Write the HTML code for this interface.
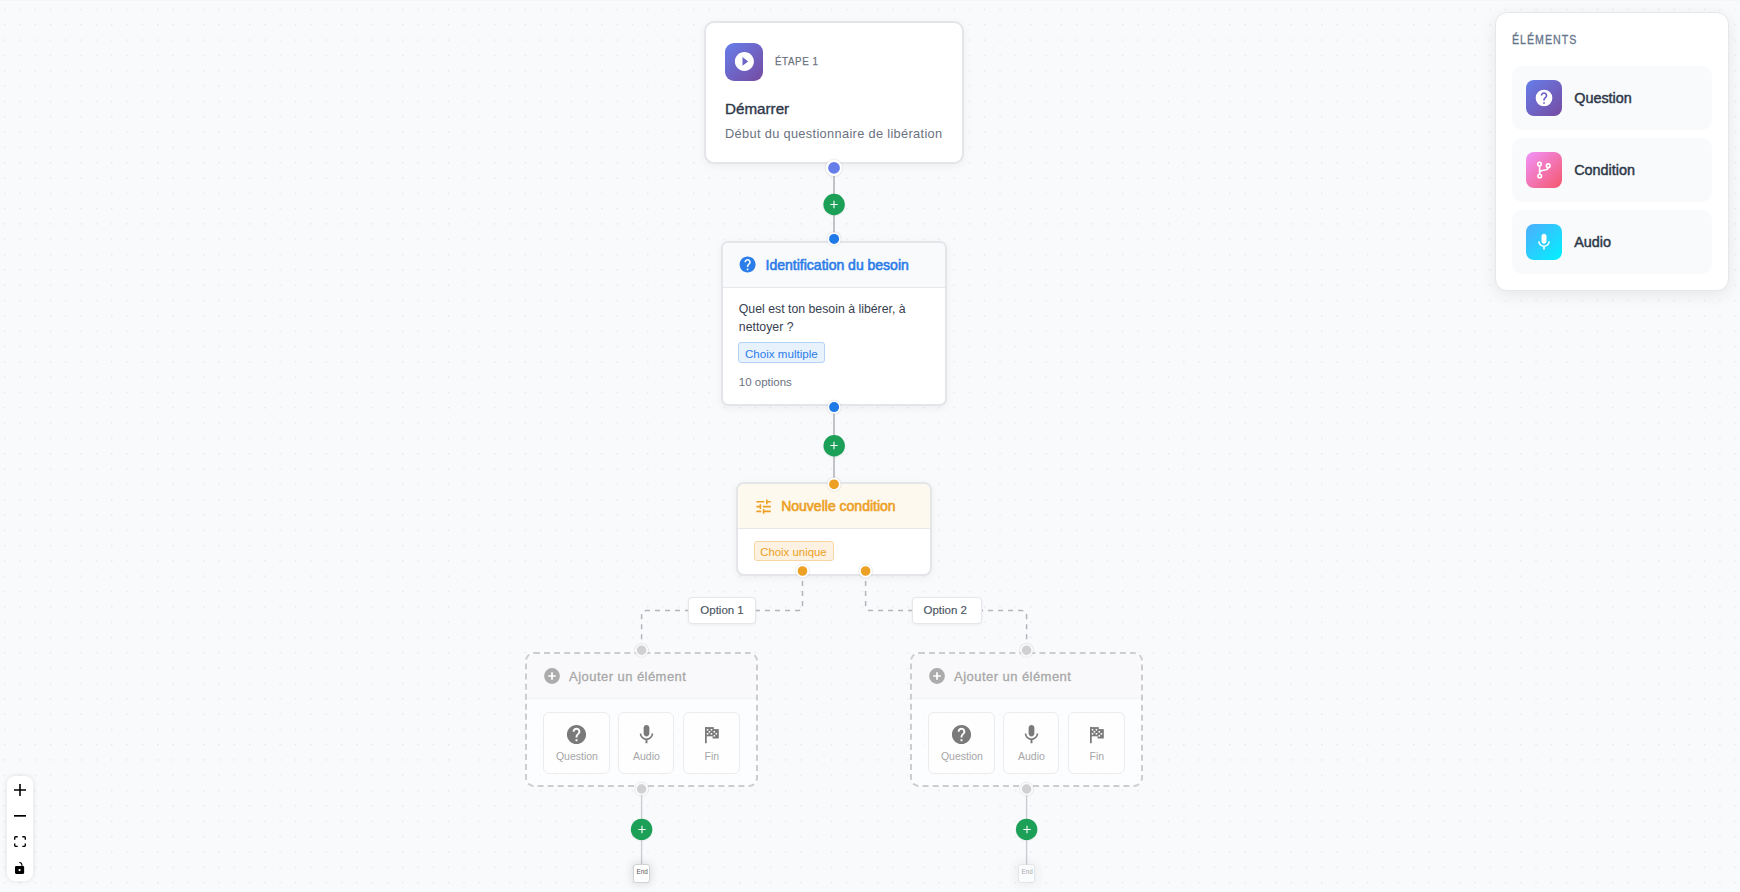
<!DOCTYPE html>
<html><head><meta charset="utf-8">
<style>
html,body{margin:0;padding:0;width:1740px;height:892px;overflow:hidden;background:#f8fafc;font-family:"Liberation Sans",sans-serif;}
.a{position:absolute;}
.t{position:absolute;white-space:nowrap;line-height:1;}
.h{position:absolute;border-radius:50%;box-sizing:border-box;border:1.5px solid #fff;}
.plus{position:absolute;width:21.6px;height:21.6px;border-radius:50%;background:#1ca058;box-shadow:0 1px 4px rgba(0,0,0,.16);}
.plus:before{content:"";position:absolute;left:7.1px;top:10.2px;width:7.4px;height:1.2px;background:#fff;}
.plus:after{content:"";position:absolute;left:10.2px;top:7.1px;width:1.2px;height:7.4px;background:#fff;}
</style></head><body>
<svg class="a" style="left:0;top:0" width="1740" height="892">
<defs><pattern id="dots" x="3.85" y="8.85" width="15.316" height="15.316" patternUnits="userSpaceOnUse"><circle cx="0.75" cy="0.75" r="0.75" fill="#dfe1e5"/></pattern></defs>
<rect width="1740" height="892" fill="url(#dots)"/>
<rect width="1740" height="1" fill="#f5f6f8"/>
<g stroke="#b4b4ba" stroke-width="1.6" fill="none">
<path d="M834 168V239"/>
<path d="M834 407V484"/>
</g>
<g stroke="#cdcdd2" stroke-width="1.4" fill="none"><path d="M641.6 789V865"/><path d="M1026.6 789V865"/></g>
<g stroke="#b4b4ba" stroke-width="1.5" fill="none" stroke-dasharray="5 5">
<path d="M802.5 571V605.6Q802.5 610.6 797.5 610.6H646.6Q641.6 610.6 641.6 615.6V650"/>
<path d="M865.6 571V605.6Q865.6 610.6 870.6 610.6H1021.6Q1026.6 610.6 1026.6 615.6V650"/>
</g>
</svg>
<div class="a" style="left:704.1px;top:21.4px;width:260px;height:142.3px;box-sizing:border-box;background:#fff;border:2px solid #e3e5e9;border-radius:10px;box-shadow:0 2px 8px rgba(0,0,0,.05)"></div>
<div class="a" style="left:725px;top:43px;width:38px;height:38px;border-radius:9px;background:linear-gradient(135deg,#667eea,#764ba2)"></div>
<svg class="a" style="left:732.8px;top:50.3px" width="22.8" height="22.8" viewBox="0 0 24 24"><path d="M12 2C6.48 2 2 6.48 2 12s4.48 10 10 10 10-4.48 10-10S17.52 2 12 2zm-2 14.5v-9l6 4.5-6 4.5z" fill="#fff"/></svg>
<div class="t" style="left:775px;top:56.4px;font-size:11.5px;color:#6b7280;letter-spacing:0.7px;-webkit-text-stroke:0.25px #6b7280;transform:scaleX(0.85);transform-origin:0 0;">ÉTAPE 1</div>
<div class="t" style="left:725px;top:101.2px;font-size:15.2px;color:#2d3748;-webkit-text-stroke:0.35px #2d3748;">Démarrer</div>
<div class="t" style="left:725px;top:127.5px;font-size:12.8px;color:#6b7280;letter-spacing:0.33px;">Début du questionnaire de libération</div>
<svg class="a" style="left:822px;top:156px;overflow:visible" width="25" height="25"><circle cx="12.00" cy="11.90" r="9.55" fill="rgba(0,0,0,.03)"/><circle cx="12.00" cy="11.90" r="8.85" fill="rgba(0,0,0,.06)"/><circle cx="12.00" cy="11.90" r="7.12" fill="#667eea" stroke="#fff" stroke-width="2.45"/></svg>
<svg class="a" style="left:822px;top:192px;overflow:visible" width="24" height="24"><circle cx="12.10" cy="13.15" r="11.3" fill="rgba(0,0,0,.05)"/><circle cx="12.10" cy="12.45" r="10.7" fill="#1ca058"/><path d="M8.30 12.50H15.70M12.00 8.80V16.20" stroke="#fff" stroke-width="1.1"/></svg>
<div class="a" style="left:721.2px;top:240.9px;width:226px;height:165.4px;box-sizing:border-box;background:#fff;border:2px solid #e3e5e9;border-radius:7px;overflow:hidden;box-shadow:0 2px 8px rgba(0,0,0,.05)">
<div class="a" style="left:0;top:0;right:0;height:44.3px;background:#f9fafb;border-bottom:1px solid #e5e7eb"></div></div>
<svg class="a" style="left:738.2px;top:254.9px" width="19.2" height="19.2" viewBox="0 0 24 24"><path d="M12 2C6.48 2 2 6.48 2 12s4.48 10 10 10 10-4.48 10-10S17.52 2 12 2zm1 17h-2v-2h2v2zm2.07-7.75l-.9.92C13.45 12.9 13 13.5 13 15h-2v-.5c0-1.1.45-2.1 1.170-2.83l1.24-1.26c.37-.36.59-.86.59-1.41 0-1.1-.9-2-2-2s-2 .9-2 2H8c0-2.21 1.79-4 4-4s4 1.79 4 4c0 .88-.36 1.68-.93 2.25z" fill="#2b7de9"/></svg>
<div class="t" style="left:765.6px;top:258.3px;font-size:14px;color:#2b7de9;-webkit-text-stroke:0.6px #2b7de9;">Identification du besoin</div>
<div class="t" style="left:738.8px;top:302.6px;font-size:12.3px;color:#374151;">Quel est ton besoin à libérer, à</div>
<div class="t" style="left:738.8px;top:320.8px;font-size:12.3px;color:#374151;">nettoyer ?</div>
<div class="a" style="left:738.3px;top:342.2px;width:86.3px;height:20.7px;box-sizing:border-box;background:#e8f2fd;border:1px solid #b3d3f6;border-radius:3px"></div>
<div class="t" style="left:745px;top:348.4px;font-size:11.6px;color:#2b7de9;">Choix multiple</div>
<div class="t" style="left:738.8px;top:376.8px;font-size:11.5px;color:#6b7280;">10 options</div>
<svg class="a" style="left:824px;top:229px;overflow:visible" width="21" height="21"><circle cx="10.10" cy="9.90" r="7.90" fill="rgba(0,0,0,.03)"/><circle cx="10.10" cy="9.90" r="7.20" fill="rgba(0,0,0,.06)"/><circle cx="10.10" cy="9.90" r="5.85" fill="#1f7ae8" stroke="#fff" stroke-width="1.70"/></svg>
<svg class="a" style="left:824px;top:397px;overflow:visible" width="21" height="21"><circle cx="10.10" cy="10.10" r="7.90" fill="rgba(0,0,0,.03)"/><circle cx="10.10" cy="10.10" r="7.20" fill="rgba(0,0,0,.06)"/><circle cx="10.10" cy="10.10" r="5.85" fill="#1f7ae8" stroke="#fff" stroke-width="1.70"/></svg>
<svg class="a" style="left:822px;top:433px;overflow:visible" width="24" height="24"><circle cx="12.20" cy="13.50" r="11.3" fill="rgba(0,0,0,.05)"/><circle cx="12.20" cy="12.80" r="10.7" fill="#1ca058"/><path d="M8.30 12.50H15.70M12.00 8.80V16.20" stroke="#fff" stroke-width="1.1"/></svg>
<div class="a" style="left:736.2px;top:482.1px;width:195.8px;height:93.8px;box-sizing:border-box;background:#fff;border:2px solid #e3e5e9;border-radius:8px;overflow:hidden;box-shadow:0 2px 8px rgba(0,0,0,.05)">
<div class="a" style="left:0;top:0;right:0;height:44.1px;background:#fef9ee;border-bottom:1px solid #e5e7eb"></div></div>
<svg class="a" style="left:753.6px;top:496.9px" width="19.2" height="19.2" viewBox="0 0 24 24"><path d="M3 17v2h6v-2H3zM3 5v2h10V5H3zm10 16v-2h8v-2h-8v-2h-2v6h2zM7 9v2H3v2h4v2h2V9H7zm14 4v-2H11v2h10zm-6-4h2V7h4V5h-4V3h-2v6z" fill="#eca024"/></svg>
<div class="t" style="left:781.2px;top:499.3px;font-size:14px;color:#eca024;-webkit-text-stroke:0.6px #eca024;">Nouvelle condition</div>
<div class="a" style="left:753.7px;top:540.6px;width:80.1px;height:20.9px;box-sizing:border-box;background:#fdf2e2;border:1px solid #f8d6a2;border-radius:3px"></div>
<div class="t" style="left:760.2px;top:547.1px;font-size:11.4px;color:#eca024;">Choix unique</div>
<svg class="a" style="left:824px;top:474px;overflow:visible" width="21" height="21"><circle cx="10.00" cy="10.30" r="7.90" fill="rgba(0,0,0,.03)"/><circle cx="10.00" cy="10.30" r="7.20" fill="rgba(0,0,0,.06)"/><circle cx="10.00" cy="10.30" r="5.80" fill="#eca024" stroke="#fff" stroke-width="1.80"/></svg>
<svg class="a" style="left:792px;top:561px;overflow:visible" width="21" height="21"><circle cx="10.50" cy="10.00" r="7.90" fill="rgba(0,0,0,.03)"/><circle cx="10.50" cy="10.00" r="7.20" fill="rgba(0,0,0,.06)"/><circle cx="10.50" cy="10.00" r="5.75" fill="#eca024" stroke="#fff" stroke-width="1.90"/></svg>
<svg class="a" style="left:855px;top:561px;overflow:visible" width="21" height="21"><circle cx="10.60" cy="10.00" r="7.90" fill="rgba(0,0,0,.03)"/><circle cx="10.60" cy="10.00" r="7.20" fill="rgba(0,0,0,.06)"/><circle cx="10.60" cy="10.00" r="5.75" fill="#eca024" stroke="#fff" stroke-width="1.90"/></svg>
<div class="a" style="left:688px;top:597px;width:68px;height:27px;box-sizing:border-box;background:#fff;border:1px solid #e5e7eb;border-radius:4px;box-shadow:0 1px 3px rgba(0,0,0,.06)"></div>
<div class="t" style="left:700.3px;top:605.3px;font-size:11.5px;color:#4b5563;-webkit-text-stroke:0.15px #4b5563;">Option 1</div>
<div class="a" style="left:911.6px;top:597px;width:70px;height:27px;box-sizing:border-box;background:#fff;border:1px solid #e5e7eb;border-radius:4px;box-shadow:0 1px 3px rgba(0,0,0,.06)"></div>
<div class="t" style="left:923.5px;top:605.3px;font-size:11.5px;color:#4b5563;-webkit-text-stroke:0.15px #4b5563;">Option 2</div>
<div class="a" style="left:525.1px;top:652.3px;width:233.1px;height:134.6px;box-sizing:border-box;border:2px dashed #cdcdcd;border-radius:9px;background:rgba(255,255,255,.6);overflow:hidden">
<div class="a" style="left:0;top:0;right:0;height:44px;background:rgba(246,247,249,.6);border-bottom:1px solid rgba(225,227,231,.25)"></div></div>
<svg class="a" style="left:543.7px;top:668.1px" width="16" height="16"><circle cx="8" cy="8" r="7.9" fill="#ababab"/><path d="M4.2 8H11.8M8 4.2V11.8" stroke="#fff" stroke-width="1.7"/></svg>
<div class="t" style="left:569.1px;top:670px;font-size:13px;color:#a8a8a8;letter-spacing:0.45px;-webkit-text-stroke:0.3px #a8a8a8;">Ajouter un élément</div>
<div class="a" style="left:543.3px;top:711.5px;width:66.4px;height:62.1px;box-sizing:border-box;border:1px solid #ececef;border-radius:6px;background:rgba(255,255,255,.6)"></div>
<div class="a" style="left:618px;top:711.5px;width:56.3px;height:62.1px;box-sizing:border-box;border:1px solid #ececef;border-radius:6px;background:rgba(255,255,255,.6)"></div>
<div class="a" style="left:683.1px;top:711.5px;width:56.6px;height:62.1px;box-sizing:border-box;border:1px solid #ececef;border-radius:6px;background:rgba(255,255,255,.6)"></div>
<svg class="a" style="left:565px;top:723.2px" width="23" height="23" viewBox="0 0 24 24"><path d="M12 2C6.48 2 2 6.48 2 12s4.48 10 10 10 10-4.48 10-10S17.52 2 12 2zm1 17h-2v-2h2v2zm2.07-7.75l-.9.92C13.45 12.9 13 13.5 13 15h-2v-.5c0-1.1.45-2.1 1.170-2.83l1.24-1.26c.37-.36.59-.86.59-1.41 0-1.1-.9-2-2-2s-2 .9-2 2H8c0-2.21 1.79-4 4-4s4 1.79 4 4c0 .88-.36 1.68-.93 2.25z" fill="#7a7a7a"/></svg>
<svg class="a" style="left:635px;top:723.1px" width="23" height="23" viewBox="0 0 24 24"><path d="M12 14c1.66 0 2.99-1.34 2.99-3L15 5c0-1.66-1.34-3-3-3S9 3.34 9 5v6c0 1.66 1.34 3 3 3zm5.3-3c0 3-2.54 5.1-5.3 5.1S6.7 14 6.7 11H5c0 3.41 2.72 6.23 6 6.72V21h2v-3.28c3.28-.48 6-3.3 6-6.72h-1.7z" fill="#7a7a7a"/></svg>
<svg class="a" style="left:700px;top:720px" width="24" height="26"><g fill="#7a7a7a"><rect x="5" y="7.1" width="1.75" height="16.1"/><rect x="5" y="7.1" width="8.8" height="9.2"/><rect x="12.6" y="9.1" width="6.2" height="9.4"/></g><rect x="6.74" y="8.94" width="1.6" height="1.6" fill="#fff"/><rect x="10.66" y="8.94" width="1.6" height="1.6" fill="#fff"/><rect x="8.62" y="10.98" width="1.6" height="1.6" fill="#fff"/><rect x="13.49" y="10.98" width="1.6" height="1.6" fill="#fff"/><rect x="6.74" y="13.02" width="1.6" height="1.6" fill="#fff"/><rect x="10.66" y="13.02" width="1.6" height="1.6" fill="#fff"/><rect x="15.53" y="13.02" width="1.6" height="1.6" fill="#fff"/><rect x="13.49" y="15.06" width="1.6" height="1.6" fill="#fff"/></svg>
<div class="t" style="left:555.9px;top:750.9px;font-size:10.5px;color:#a6a6a6;">Question</div>
<div class="t" style="left:633px;top:750.9px;font-size:10.5px;color:#a6a6a6;">Audio</div>
<div class="t" style="left:704.6px;top:750.9px;font-size:10.5px;color:#a6a6a6;">Fin</div>
<svg class="a" style="left:632px;top:640px;overflow:visible" width="21" height="21"><circle cx="9.60" cy="10.30" r="7.80" fill="rgba(0,0,0,.03)"/><circle cx="9.60" cy="10.30" r="7.10" fill="rgba(0,0,0,.06)"/><circle cx="9.60" cy="10.30" r="5.65" fill="#d0d0d2" stroke="rgba(255,255,255,.85)" stroke-width="1.90"/></svg>
<svg class="a" style="left:632px;top:779px;overflow:visible" width="21" height="21"><circle cx="9.60" cy="10.00" r="7.80" fill="rgba(0,0,0,.03)"/><circle cx="9.60" cy="10.00" r="7.10" fill="rgba(0,0,0,.06)"/><circle cx="9.60" cy="10.00" r="5.65" fill="#d0d0d2" stroke="rgba(255,255,255,.85)" stroke-width="1.90"/></svg>
<svg class="a" style="left:629px;top:817px;overflow:visible" width="24" height="24"><circle cx="12.60" cy="13.10" r="11.3" fill="rgba(0,0,0,.05)"/><circle cx="12.60" cy="12.40" r="10.7" fill="#1ca058"/><path d="M9.30 12.50H16.70M13.00 8.80V16.20" stroke="#fff" stroke-width="1.1"/></svg>
<div class="a" style="left:632.7px;top:864.3px;width:17.8px;height:18.3px;opacity:1"><div class="a" style="left:0;top:0;width:17.8px;height:18.3px;box-sizing:border-box;background:#fff;border:1px solid #d2d2d2;border-radius:3px;box-shadow:0 0 10px 1px rgba(0,0,0,.12)"></div><div class="t" style="left:3.9px;top:5.2px;font-size:6.3px;color:#555;">End</div>
</div>
<div class="a" style="left:910.1px;top:652.3px;width:233.1px;height:134.6px;box-sizing:border-box;border:2px dashed #cdcdcd;border-radius:9px;background:rgba(255,255,255,.6);overflow:hidden">
<div class="a" style="left:0;top:0;right:0;height:44px;background:rgba(246,247,249,.6);border-bottom:1px solid rgba(225,227,231,.25)"></div></div>
<svg class="a" style="left:928.7px;top:668.1px" width="16" height="16"><circle cx="8" cy="8" r="7.9" fill="#ababab"/><path d="M4.2 8H11.8M8 4.2V11.8" stroke="#fff" stroke-width="1.7"/></svg>
<div class="t" style="left:954.1px;top:670px;font-size:13px;color:#a8a8a8;letter-spacing:0.45px;-webkit-text-stroke:0.3px #a8a8a8;">Ajouter un élément</div>
<div class="a" style="left:928.3px;top:711.5px;width:66.4px;height:62.1px;box-sizing:border-box;border:1px solid #ececef;border-radius:6px;background:rgba(255,255,255,.6)"></div>
<div class="a" style="left:1003px;top:711.5px;width:56.3px;height:62.1px;box-sizing:border-box;border:1px solid #ececef;border-radius:6px;background:rgba(255,255,255,.6)"></div>
<div class="a" style="left:1068.1px;top:711.5px;width:56.6px;height:62.1px;box-sizing:border-box;border:1px solid #ececef;border-radius:6px;background:rgba(255,255,255,.6)"></div>
<svg class="a" style="left:950px;top:723.2px" width="23" height="23" viewBox="0 0 24 24"><path d="M12 2C6.48 2 2 6.48 2 12s4.48 10 10 10 10-4.48 10-10S17.52 2 12 2zm1 17h-2v-2h2v2zm2.07-7.75l-.9.92C13.45 12.9 13 13.5 13 15h-2v-.5c0-1.1.45-2.1 1.170-2.83l1.24-1.26c.37-.36.59-.86.59-1.41 0-1.1-.9-2-2-2s-2 .9-2 2H8c0-2.21 1.79-4 4-4s4 1.79 4 4c0 .88-.36 1.68-.93 2.25z" fill="#7a7a7a"/></svg>
<svg class="a" style="left:1020px;top:723.1px" width="23" height="23" viewBox="0 0 24 24"><path d="M12 14c1.66 0 2.99-1.34 2.99-3L15 5c0-1.66-1.34-3-3-3S9 3.34 9 5v6c0 1.66 1.34 3 3 3zm5.3-3c0 3-2.54 5.1-5.3 5.1S6.7 14 6.7 11H5c0 3.41 2.72 6.23 6 6.72V21h2v-3.28c3.28-.48 6-3.3 6-6.72h-1.7z" fill="#7a7a7a"/></svg>
<svg class="a" style="left:1085px;top:720px" width="24" height="26"><g fill="#7a7a7a"><rect x="5" y="7.1" width="1.75" height="16.1"/><rect x="5" y="7.1" width="8.8" height="9.2"/><rect x="12.6" y="9.1" width="6.2" height="9.4"/></g><rect x="6.74" y="8.94" width="1.6" height="1.6" fill="#fff"/><rect x="10.66" y="8.94" width="1.6" height="1.6" fill="#fff"/><rect x="8.62" y="10.98" width="1.6" height="1.6" fill="#fff"/><rect x="13.49" y="10.98" width="1.6" height="1.6" fill="#fff"/><rect x="6.74" y="13.02" width="1.6" height="1.6" fill="#fff"/><rect x="10.66" y="13.02" width="1.6" height="1.6" fill="#fff"/><rect x="15.53" y="13.02" width="1.6" height="1.6" fill="#fff"/><rect x="13.49" y="15.06" width="1.6" height="1.6" fill="#fff"/></svg>
<div class="t" style="left:940.9px;top:750.9px;font-size:10.5px;color:#a6a6a6;">Question</div>
<div class="t" style="left:1018px;top:750.9px;font-size:10.5px;color:#a6a6a6;">Audio</div>
<div class="t" style="left:1089.6px;top:750.9px;font-size:10.5px;color:#a6a6a6;">Fin</div>
<svg class="a" style="left:1016px;top:640px;overflow:visible" width="21" height="21"><circle cx="10.60" cy="10.30" r="7.80" fill="rgba(0,0,0,.03)"/><circle cx="10.60" cy="10.30" r="7.10" fill="rgba(0,0,0,.06)"/><circle cx="10.60" cy="10.30" r="5.65" fill="#d0d0d2" stroke="rgba(255,255,255,.85)" stroke-width="1.90"/></svg>
<svg class="a" style="left:1016px;top:779px;overflow:visible" width="21" height="21"><circle cx="10.60" cy="10.00" r="7.80" fill="rgba(0,0,0,.03)"/><circle cx="10.60" cy="10.00" r="7.10" fill="rgba(0,0,0,.06)"/><circle cx="10.60" cy="10.00" r="5.65" fill="#d0d0d2" stroke="rgba(255,255,255,.85)" stroke-width="1.90"/></svg>
<svg class="a" style="left:1014px;top:817px;overflow:visible" width="24" height="24"><circle cx="12.60" cy="13.10" r="11.3" fill="rgba(0,0,0,.05)"/><circle cx="12.60" cy="12.40" r="10.7" fill="#1ca058"/><path d="M9.30 12.50H16.70M13.00 8.80V16.20" stroke="#fff" stroke-width="1.1"/></svg>
<div class="a" style="left:1017.7px;top:864.3px;width:17.8px;height:18.3px;opacity:0.5"><div class="a" style="left:0;top:0;width:17.8px;height:18.3px;box-sizing:border-box;background:#fff;border:1px solid #d2d2d2;border-radius:3px;box-shadow:0 0 10px 1px rgba(0,0,0,.12)"></div><div class="t" style="left:3.9px;top:5.2px;font-size:6.3px;color:#555;">End</div>
</div>
<div class="a" style="left:1495.3px;top:12.2px;width:233.4px;height:279.2px;box-sizing:border-box;background:#fff;border:1px solid #e5e7eb;border-radius:12px;box-shadow:0 4px 16px rgba(0,0,0,.08)"></div>
<div class="t" style="left:1512.4px;top:33.6px;font-size:12.8px;color:#64748b;letter-spacing:1.2px;-webkit-text-stroke:0.3px #64748b;transform:scaleX(0.83);transform-origin:0 0;">ÉLÉMENTS</div>
<div class="a" style="left:1512.2px;top:66.4px;width:200px;height:64px;border-radius:10px;background:#f8fafc"></div>
<div class="a" style="left:1526px;top:80.0px;width:36px;height:36px;border-radius:8px;background:linear-gradient(135deg,#667eea,#764ba2)"></div>
<div class="t" style="left:1574.2px;top:90.7px;font-size:14.4px;color:#2d3748;-webkit-text-stroke:0.45px #2d3748;">Question</div>
<div class="a" style="left:1512.2px;top:138.4px;width:200px;height:64px;border-radius:10px;background:#f8fafc"></div>
<div class="a" style="left:1526px;top:152.0px;width:36px;height:36px;border-radius:8px;background:linear-gradient(135deg,#f093fb,#f5576c)"></div>
<div class="t" style="left:1574.2px;top:162.70000000000002px;font-size:14.4px;color:#2d3748;-webkit-text-stroke:0.45px #2d3748;">Condition</div>
<div class="a" style="left:1512.2px;top:210.4px;width:200px;height:64px;border-radius:10px;background:#f8fafc"></div>
<div class="a" style="left:1526px;top:224.0px;width:36px;height:36px;border-radius:8px;background:linear-gradient(135deg,#4facfe,#00f2fe)"></div>
<div class="t" style="left:1574.2px;top:234.70000000000002px;font-size:14.4px;color:#2d3748;-webkit-text-stroke:0.45px #2d3748;">Audio</div>
<svg class="a" style="left:1534px;top:88px" width="20" height="20" viewBox="0 0 24 24"><circle cx="12" cy="12" r="10" fill="#fff"/><path d="M13 19h-2v-2h2v2zm2.07-7.75l-.9.92C13.45 12.9 13 13.5 13 15h-2v-.5c0-1.1.45-2.1 1.17-2.83l1.24-1.26c.37-.36.59-.86.59-1.41 0-1.1-.9-2-2-2s-2 .9-2 2H8c0-2.21 1.79-4 4-4s4 1.79 4 4c0 .88-.36 1.68-.93 2.25z" fill="#6e5ccc"/></svg>
<svg class="a" style="left:1526px;top:152px" width="36" height="36"><g fill="none" stroke="#fff" stroke-width="1.6" stroke-linecap="round"><circle cx="13.5" cy="12.1" r="1.8"/><circle cx="22.2" cy="13.7" r="1.8"/><circle cx="13.7" cy="24" r="1.8"/><path d="M13.6 13.9V22.2M13.7 20.4Q14.6 18.4 17.6 18.2Q22.2 17.8 22.2 15.5"/></g></svg>
<svg class="a" style="left:1534px;top:231.7px" width="20" height="20" viewBox="0 0 24 24"><path d="M12 14c1.66 0 2.99-1.34 2.99-3L15 5c0-1.66-1.34-3-3-3S9 3.34 9 5v6c0 1.66 1.34 3 3 3zm5.3-3c0 3-2.54 5.1-5.3 5.1S6.7 14 6.7 11H5c0 3.41 2.72 6.23 6 6.72V21h2v-3.28c3.28-.48 6-3.3 6-6.72h-1.7z" fill="#fff"/></svg>
<div class="a" style="left:6.6px;top:776.2px;width:26.4px;height:105px;background:#fff;border-radius:8px;box-shadow:0 0 4px 1px rgba(0,0,0,.08)"></div>
<svg class="a" style="left:13.9px;top:784px" width="12" height="12" viewBox="0 0 32 32"><path d="M32 18.133H18.133V32h-4.266V18.133H0v-4.266h13.867V0h4.266v13.867H32z"/></svg>
<svg class="a" style="left:14px;top:815px" width="12" height="2" viewBox="0 0 32 5" preserveAspectRatio="none"><path d="M0 0h32v4.2H0z"/></svg>
<svg class="a" style="left:14px;top:836px" width="12" height="11.25" viewBox="0 0 32 30"><path d="M3.692 4.63c0-.53.4-.938.939-.938h5.215V0H4.708C2.13 0 0 2.054 0 4.63v5.216h3.692V4.631zM27.354 0h-5.2v3.692h5.17c.53 0 .984.4.984.939v5.215H32V4.631A4.624 4.624 0 0027.354 0zm.954 24.83c0 .532-.4.94-.939.94h-5.215v3.768h5.215c2.577 0 4.631-2.13 4.631-4.707v-5.139h-3.692v5.139zm-23.677.94c-.531 0-.939-.4-.939-.94v-5.138H0v5.139c0 2.577 2.13 4.707 4.708 4.707h5.138V25.77H4.631z"/></svg>
<svg class="a" style="left:15.2px;top:862px" width="9.4" height="12" viewBox="0 0 25 32"><path d="M21.333 10.667H19.81V7.619C19.81 3.429 16.38 0 12.19 0c-4.114 1.828-1.37 2.133.305 2.438 1.676.305 4.420 2.59 4.42 5.181v3.048H3.047A3.056 3.056 0 000 13.714v15.238A3.056 3.056 0 003.048 32h18.285a3.056 3.056 0 003.048-3.048V13.714a3.056 3.056 0 00-3.048-3.047zM12.19 24.533a3.056 3.056 0 01-3.047-3.047 3.056 3.056 0 013.047-3.048 3.056 3.056 0 013.048 3.048 3.056 3.056 0 01-3.048 3.047z"/></svg>
</body></html>
